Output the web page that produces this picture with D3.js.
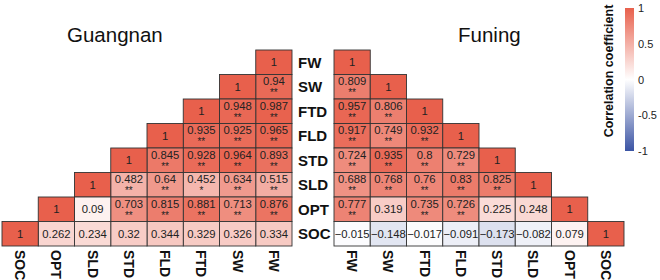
<!DOCTYPE html>
<html>
<head>
<meta charset="utf-8">
<script src="https://cdn.jsdelivr.net/npm/d3@7"></script>
<style>
  body { margin: 0; background: #fff; }
  text { font-family: Arial, "Liberation Sans", sans-serif; }
</style>
</head>
<body>
<div id="chart"></div>
<script>
// variables, in row order (top to bottom)
var vars = ["FW", "SW", "FTD", "FLD", "STD", "SLD", "OPT", "SOC"];

// lower triangles: row i holds correlations with vars[0..i]
var guangnanR = [
  [1],
  [0.94, 1],
  [0.987, 0.948, 1],
  [0.965, 0.925, 0.935, 1],
  [0.893, 0.964, 0.928, 0.845, 1],
  [0.515, 0.634, 0.452, 0.64, 0.482, 1],
  [0.876, 0.713, 0.881, 0.815, 0.703, 0.09, 1],
  [0.334, 0.326, 0.329, 0.344, 0.32, 0.234, 0.262, 1]
];
var guangnanSig = [
  [""],
  ["**", ""],
  ["**", "**", ""],
  ["**", "**", "**", ""],
  ["**", "**", "**", "**", ""],
  ["**", "**", "*", "**", "**", ""],
  ["**", "**", "**", "**", "**", "", ""],
  ["", "", "", "", "", "", "", ""]
];
var funingR = [
  [1],
  [0.809, 1],
  [0.957, 0.806, 1],
  [0.917, 0.749, 0.932, 1],
  [0.724, 0.935, 0.8, 0.729, 1],
  [0.688, 0.768, 0.76, 0.83, 0.825, 1],
  [0.777, 0.319, 0.735, 0.726, 0.225, 0.248, 1],
  [-0.015, -0.148, -0.017, -0.091, -0.173, -0.082, 0.079, 1]
];
var funingSig = [
  [""],
  ["**", ""],
  ["**", "**", ""],
  ["**", "**", "**", ""],
  ["**", "**", "**", "**", ""],
  ["**", "**", "**", "**", "**", ""],
  ["**", "", "**", "**", "", "", ""],
  ["", "", "", "", "", "", "", ""]
];
var legendTicks = [1, 0.5, 0, -0.5, -1];

var width = 660, height = 280;
var svg = d3.select("#chart").append("svg")
  .attr("width", width)
  .attr("height", height);

var color = d3.scaleLinear()
  .domain([-1, 0, 1])
  .range(["#3b54a4", "#ffffff", "#e8604c"]);

var y = d3.scaleBand().domain(vars).range([50, 246]);
var xLeft = vars.slice().reverse();
var xL = d3.scaleBand().domain(xLeft).range([2, 292]);
var xR = d3.scaleBand().domain(vars).range([334, 624]);

function fmt(v) {
  return String(v).replace("-", "\u2212");
}

function drawPanel(mat, sig, x) {
  var cells = [];
  mat.forEach(function(row, i) {
    row.forEach(function(v, j) {
      cells.push({ row: vars[i], col: vars[j], v: v, s: sig[i][j] });
    });
  });
  var g = svg.append("g");
  var c = g.selectAll("g.cell").data(cells).enter().append("g")
    .attr("transform", function(d) { return "translate(" + x(d.col) + "," + y(d.row) + ")"; });
  c.append("rect")
    .attr("width", x.bandwidth())
    .attr("height", y.bandwidth())
    .attr("fill", function(d) { return color(d.v); })
    .attr("stroke", "#333")
    .attr("stroke-width", 0.9);
  c.append("text")
    .attr("x", x.bandwidth() / 2)
    .attr("y", function(d) { return d.s ? 10.5 : y.bandwidth() / 2 + 4; })
    .attr("text-anchor", "middle")
    .attr("font-size", 11.3)
    .attr("fill", "#222")
    .text(function(d) { return fmt(d.v); });
  c.filter(function(d) { return d.s; }).append("text")
    .attr("x", x.bandwidth() / 2)
    .attr("y", 21.5)
    .attr("text-anchor", "middle")
    .attr("font-size", 10)
    .attr("fill", "#222")
    .text(function(d) { return d.s; });

  // column labels, rotated
  g.selectAll("text.col").data(x.domain()).enter().append("text")
    .attr("transform", function(d) { return "translate(" + (x(d) + x.bandwidth() / 2) + ",250) rotate(90)"; })
    .attr("dy", "0.36em")
    .attr("font-size", 14)
    .attr("font-weight", "bold")
    .attr("fill", "#111")
    .text(function(d) { return d; });
}

drawPanel(guangnanR, guangnanSig, xL);
drawPanel(funingR, funingSig, xR);

// shared row labels
svg.selectAll("text.row").data(vars).enter().append("text")
  .attr("x", 298)
  .attr("y", function(d) { return y(d) + y.bandwidth() / 2 + 5.5; })
  .attr("font-size", 15)
  .attr("font-weight", "bold")
  .attr("fill", "#111")
  .text(function(d) { return d; });

// titles
svg.append("text").attr("x", 67).attr("y", 42)
  .attr("font-size", 20.5).attr("fill", "#111").text("Guangnan");
svg.append("text").attr("x", 458).attr("y", 42)
  .attr("font-size", 20.5).attr("fill", "#111").text("Funing");

// colour bar legend
var ly = d3.scaleLinear().domain([-1, 1]).range([151, 8]);
var grad = svg.append("defs").append("linearGradient")
  .attr("id", "cbar").attr("x1", 0).attr("y1", 1).attr("x2", 0).attr("y2", 0);
[-1, 0, 1].forEach(function(v) {
  grad.append("stop").attr("offset", (v + 1) / 2).attr("stop-color", color(v));
});
svg.append("rect")
  .attr("x", 625).attr("y", ly(1))
  .attr("width", 9).attr("height", ly(-1) - ly(1))
  .attr("fill", "url(#cbar)");
svg.selectAll("text.tick").data(legendTicks).enter().append("text")
  .attr("x", 638)
  .attr("y", function(d) { return ly(d) + 4; })
  .attr("font-size", 11)
  .attr("fill", "#222")
  .text(function(d) { return d; });
svg.append("text")
  .attr("transform", "translate(613,71) rotate(-90)")
  .attr("text-anchor", "middle")
  .attr("font-size", 12.5)
  .attr("font-weight", "bold")
  .attr("fill", "#111")
  .text("Correlation coefficient");
</script>
</body>
</html>
